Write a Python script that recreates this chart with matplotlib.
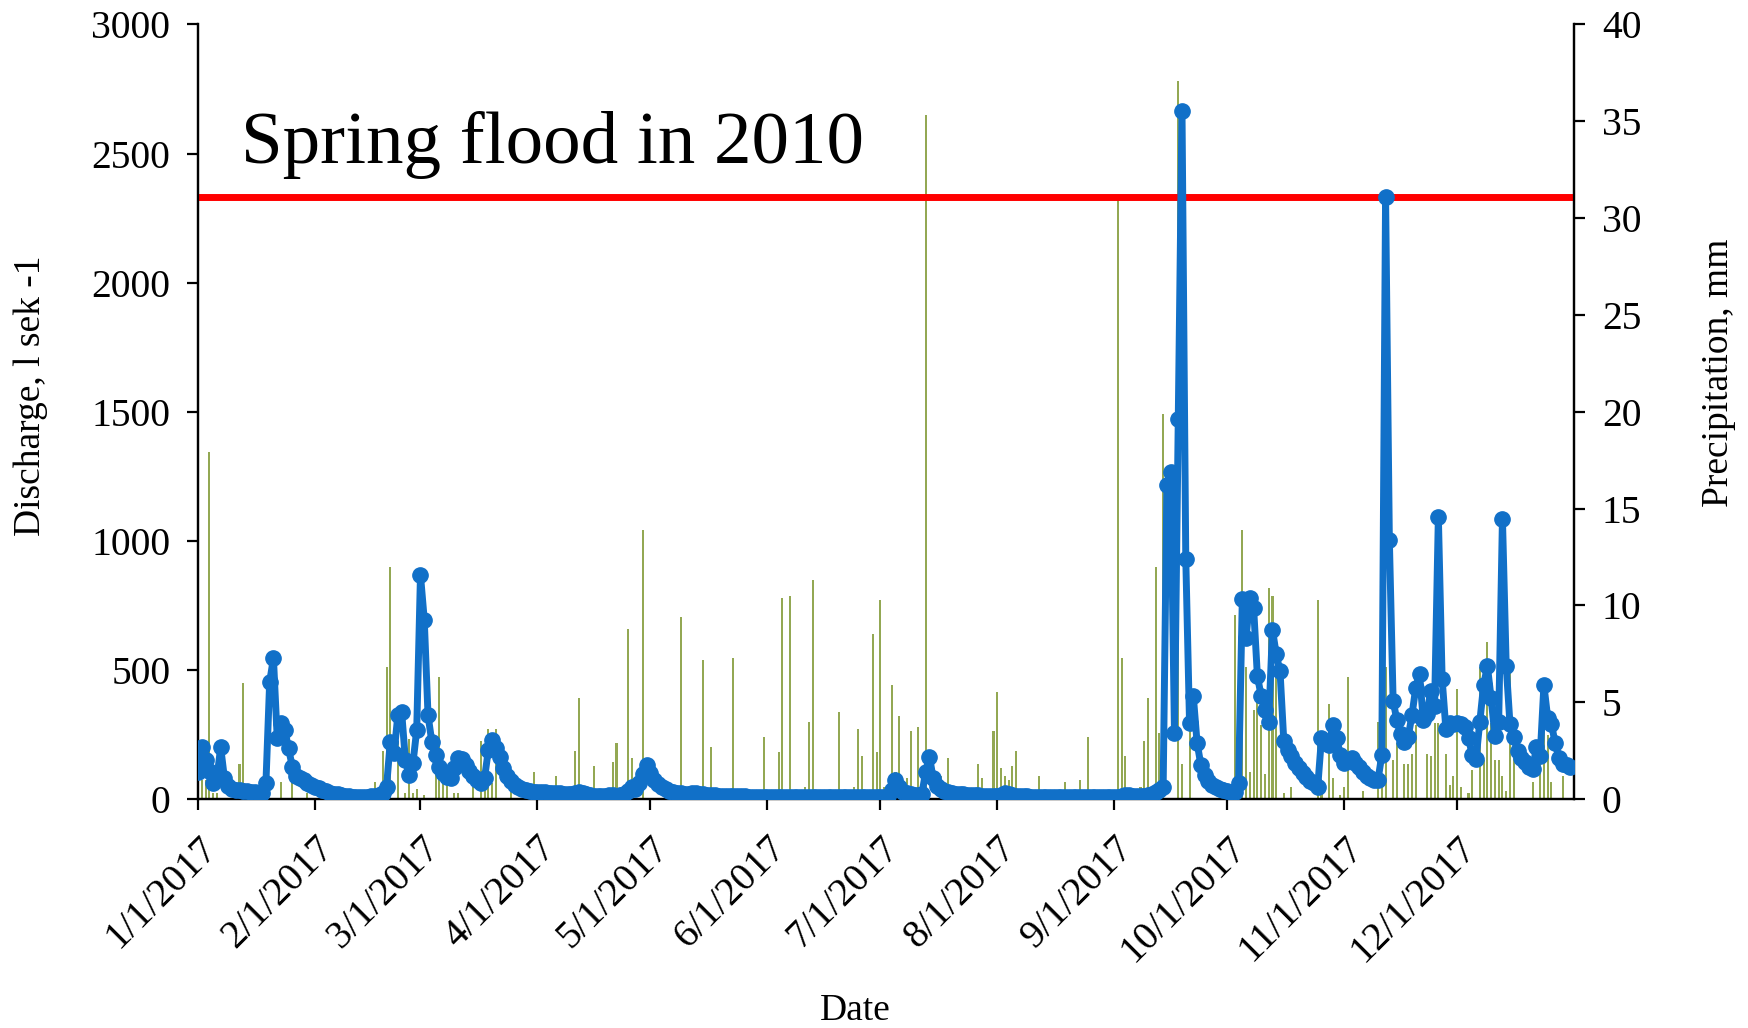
import numpy as np
import pandas as pd
import matplotlib
matplotlib.use('Agg')
import matplotlib.pyplot as plt
import matplotlib.dates as mdates
from matplotlib.ticker import FuncFormatter, MultipleLocator

plt.rcParams['font.family'] = ['Liberation Serif', 'DejaVu Serif']

# daily discharge 2017, l/s, one list per month
jan = [106, 202, 150, 110, 62, 80, 200, 80, 50, 38, 35, 33, 32, 30, 28, 26,
       24, 22, 60, 454, 545, 236, 293, 268, 197, 125, 90, 82, 72, 62, 55]
feb = [48, 42, 36, 30, 25, 21, 18, 15, 12, 10, 9, 8, 8, 8, 9, 10, 12, 16,
       25, 48, 222, 178, 325, 338, 151, 93, 138, 267]
mar = [867, 695, 325, 222, 170, 125, 100, 85, 80, 120, 160, 155, 130, 110,
       90, 75, 62, 80, 190, 228, 196, 164, 120, 90, 70, 55, 45, 38, 33, 30, 28]
apr = [28, 27, 26, 25, 24, 23, 22, 20, 18, 20, 25, 28, 25, 20, 15, 12, 10,
       10, 12, 15, 14, 12, 15, 20, 30, 48, 40, 60, 95, 131]
may = [100, 75, 58, 45, 38, 32, 28, 25, 22, 20, 20, 22, 22, 20, 18, 16, 15,
       14, 13, 12, 12, 11, 11, 10, 10, 10, 9, 9, 9, 9, 8]
jun = [8, 8, 7, 7, 7, 7, 7, 7, 6, 6, 6, 6, 6, 6, 7, 7, 8, 7, 7, 6, 6, 6, 6,
       6, 6, 6, 6, 6, 6, 7]
jul = [8, 9, 12, 35, 74, 45, 28, 22, 19, 17, 16, 18, 106, 164, 80, 50, 38,
       30, 26, 23, 21, 19, 18, 17, 16, 15, 14, 13, 13, 12, 12]
aug = [12, 15, 22, 18, 14, 12, 11, 10, 10, 9, 9, 9, 8, 8, 8, 8, 8, 8, 7, 7,
       7, 7, 7, 7, 7, 7, 7, 7, 7, 7, 8]
sep = [8, 9, 12, 15, 14, 12, 12, 11, 12, 15, 20, 28, 35, 46, 1217, 1268, 256,
       1470, 2666, 931, 294, 398, 218, 132, 94, 70, 55, 45, 38, 33]
oct_ = [30, 28, 27, 60, 775, 625, 780, 740, 475, 400, 345, 300, 655, 560, 495,
        225, 190, 165, 140, 120, 100, 85, 70, 60, 46, 237, 215, 209, 285, 237,
        170]
nov = [140, 150, 160, 140, 125, 105, 90, 80, 75, 75, 170, 2333, 1005, 380,
       305, 250, 220, 240, 325, 430, 485, 305, 330, 420, 360, 1093, 465, 270,
       295, 290]
dec = [295, 290, 280, 235, 170, 155, 300, 440, 515, 390, 245, 300, 1085, 515,
       290, 240, 185, 160, 142, 125, 115, 200, 165, 440, 315, 290, 215, 160,
       135, 130, 125]

discharge = jan + feb + mar + apr + may + jun + jul + aug + sep + oct_ + nov + dec

# rainy days (day of year, 0 = 1 Jan) and daily precipitation, mm
rain_day = [0, 1, 2, 3, 4, 5, 11, 12, 22, 25, 29,
            37, 44, 47, 49, 50, 51, 53, 55, 56, 57, 58,
            60, 63, 64, 65, 66, 68, 69, 73, 75, 76, 77, 78, 79, 83, 89,
            95, 100, 101, 105, 110, 111, 114, 115, 118,
            128, 134, 136, 137, 142, 150,
            151, 154, 155, 157, 161, 162, 163, 170, 174, 175, 176, 179, 180,
            181, 182, 184, 185, 186, 188, 189, 191, 193, 197, 199, 207, 208, 211,
            212, 213, 214, 215, 216, 217, 223, 230, 234, 236,
            244, 245, 246, 250, 251, 252, 254, 255, 256, 260, 261, 263,
            275, 277, 278, 279, 280, 281, 282, 283, 284, 285, 286, 288, 290,
            297, 298, 300, 301, 303,
            304, 305, 309, 313, 314, 315, 317, 318, 320, 321, 322, 323, 326,
            327, 328, 329, 331, 332, 333,
            334, 335, 337, 338, 340, 341, 342, 343, 344, 345, 346, 347, 348,
            349, 354, 356, 357, 358, 359, 362]
rain_mm = [8.0, 1.0, 1.0, 17.9, 0.3, 0.3, 1.8, 6.0, 0.9, 0.9, 0.3,
           0.3, 0.4, 0.9, 2.5, 6.8, 12.0, 3.0, 0.3, 3.1, 0.3, 0.5,
           0.2, 2.5, 6.3, 0.9, 0.9, 0.3, 0.3, 0.6, 3.0, 0.5, 3.6, 0.8, 3.6, 0.4, 1.4,
           1.2, 2.5, 5.2, 1.7, 1.9, 2.9, 8.8, 2.1, 13.9,
           9.4, 7.2, 2.7, 0.4, 7.3, 3.2,
           0.4, 2.4, 10.4, 10.5, 0.6, 4.0, 11.3, 4.5, 0.6, 3.6, 2.2, 8.5, 2.4,
           10.3, 0.6, 5.9, 1.4, 4.3, 1.1, 3.5, 3.7, 35.3, 1.2, 2.1, 1.8, 1.1, 3.5,
           5.5, 1.6, 1.2, 1.0, 1.7, 2.5, 1.2, 0.9, 1.0, 3.2,
           31.2, 7.3, 2.2, 0.6, 3.0, 5.2, 12.0, 3.4, 19.9, 37.1, 1.8, 5.4,
           9.5, 13.9, 6.8, 1.4, 4.6, 5.3, 3.8, 1.3, 10.9, 10.5, 6.8, 0.3, 0.6,
           10.3, 0.4, 4.9, 1.1, 0.2,
           0.6, 6.3, 0.4, 4.0, 0.9, 6.8, 2.0, 2.9, 1.8, 1.8, 2.3, 3.8, 2.3,
           2.2, 3.9, 3.9, 2.3, 0.7, 1.2,
           5.7, 0.6, 0.3, 1.5, 6.8, 2.0, 8.1, 3.9, 2.0, 2.0, 1.2, 0.4, 6.6,
           2.4, 0.9, 2.2, 3.8, 3.3, 0.9, 1.2]

flood_2010 = 2330

start = pd.Timestamp('2017-01-01')
dates = pd.date_range(start, periods=len(discharge), freq='D')
rain_dates = start + pd.to_timedelta(rain_day, unit='D')
month_starts = pd.date_range(start, periods=12, freq='MS')

fig = plt.figure(figsize=(17.48, 10.28), dpi=100)
ax = fig.add_axes([0.1133, 0.2228, 0.7872, 0.7534])
ax2 = ax.twinx()

# precipitation bars on the right axis, kept behind the discharge line
ax2.bar(rain_dates, rain_mm, width=0.55, color='#93a853', linewidth=0)
ax.set_zorder(ax2.get_zorder() + 1)
ax.patch.set_visible(False)

ax.axhline(flood_2010, color='#ff0000', lw=5, zorder=2)
ax.plot(dates, discharge, color='#1170c8', lw=5, marker='o', ms=11,
        zorder=3)
ax.text(0.031, 0.845, 'Spring flood in 2010', transform=ax.transAxes,
        fontsize=54, va='center', ha='left')

ax.set_xlim(start, pd.Timestamp('2018-01-01'))
ax.set_ylim(0, 3000)
ax2.set_ylim(0, 40)
ax.yaxis.set_major_locator(MultipleLocator(500))
ax2.yaxis.set_major_locator(MultipleLocator(5))

ax.set_xticks(month_starts)
ax.xaxis.set_major_formatter(FuncFormatter(
    lambda v, pos: '{d.month}/{d.day}/{d.year}'.format(d=mdates.num2date(v))))

for a in (ax, ax2):
    a.spines['top'].set_visible(False)
    for s in a.spines.values():
        s.set_linewidth(1.6)
    a.tick_params(direction='out', length=8, width=1.6, labelsize=28.5, pad=12)
ax.tick_params(axis='x', pad=14)
for lbl in ax.get_xticklabels():
    lbl.set_rotation(45)
    lbl.set_ha('right')
    lbl.set_rotation_mode('anchor')

fig.text(31 / 1748, 0.615, 'Discharge, l sek -1', rotation=90,
         fontsize=27, ha='center', va='center')
fig.text(1719 / 1748, 0.637, 'Precipitation, mm', rotation=90,
         fontsize=27, ha='center', va='center')
fig.text(855 / 1748, 1 - 1011 / 1028, 'Date', fontsize=27,
         ha='center', va='center')

fig.savefig('out.png', dpi=100)
